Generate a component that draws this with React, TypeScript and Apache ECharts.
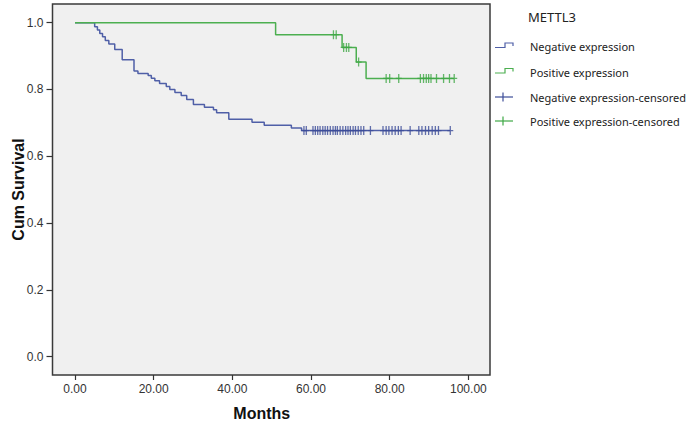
import React, { useEffect, useRef } from "react";
import * as echarts from "echarts";

const legendTitle = "METTL3";
const seriesNames = [
  "Negative expression",
  "Positive expression",
  "Negative expression-censored",
  "Positive expression-censored",
];

// Kaplan-Meier steps: time of drop and survival after the drop
const negTimes = [0, 5.0, 5.7, 6.3, 7.0, 7.7, 8.6, 10.1, 12.0, 15.0, 16.0, 18.6, 19.4, 20.3, 21.5, 23.2, 24.1, 25.4, 27.0, 28.4, 30.1, 32.9, 35.2, 36.0, 39.1, 45.0, 48.1, 55.0, 57.6, 95.4];
const negSurv = [1.0, 0.988, 0.978, 0.968, 0.958, 0.947, 0.936, 0.92, 0.889, 0.855, 0.848, 0.842, 0.834, 0.826, 0.818, 0.809, 0.8, 0.791, 0.782, 0.77, 0.755, 0.747, 0.739, 0.73, 0.711, 0.702, 0.693, 0.685, 0.677, 0.677];
const posTimes = [0, 51.0, 67.9, 71.5, 74.0, 96.4];
const posSurv = [1.0, 0.964, 0.926, 0.882, 0.833, 0.833];

const negCensored = [58.2, 58.8, 60.5, 61.1, 61.7, 62.3, 63.0, 63.6, 64.2, 64.9, 65.6, 66.2, 66.7, 67.4, 68.1, 68.8, 69.4, 70.0, 70.7, 71.3, 72.0, 72.7, 73.4, 75.1, 78.3, 79.1, 79.8, 80.6, 81.4, 82.2, 82.9, 85.2, 87.4, 88.2, 89.1, 89.9, 90.8, 91.6, 92.4, 95.4];
const posCensored = [65.7, 66.4, 68.3, 69.0, 69.6, 72.1, 79.1, 80.0, 82.3, 87.8, 88.6, 89.3, 89.9, 90.5, 91.9, 93.7, 95.2, 96.4];

const xTicks = [0, 20, 40, 60, 80, 100];
const yTicks = [0, 0.2, 0.4, 0.6, 0.8, 1.0];

const xTitle = "Months";
const yTitle = "Cum Survival";

const BLUE = "#4f5fa7";
const BLUE_MARK = "#3c4c98";
const GREEN = "#4caf50";
const GREEN_MARK = "#3fa845";

function survAt(times: number[], surv: number[], t: number) {
  let v = surv[0];
  for (let i = 0; i < times.length; i++) if (times[i] <= t) v = surv[i];
  return v;
}

const PLUS = "path://M23.5,0H36.5V38.5H60V51.5H36.5V90H23.5V51.5H0V38.5H23.5Z";

export default function App() {
  const ref = useRef<HTMLDivElement>(null);
  useEffect(() => {
    if (!ref.current) return;
    const chart = echarts.init(ref.current, null, { renderer: "svg" });
    const font = "'Liberation Sans', Arial, sans-serif";
    const legFont = "'Noto Sans', sans-serif";
    const rows = [46.5, 72, 97, 121];
    const colors = [BLUE, GREEN, BLUE_MARK, GREEN_MARK];
    const legendEls: any[] = [
      {
        type: "text",
        left: 528,
        top: 10,
        style: { text: legendTitle, font: `13px ${legFont}`, fill: "#222" },
      },
    ];
    rows.forEach((y, i) => {
      if (i < 2) {
        legendEls.push({
          type: "polyline",
          shape: { points: [[495, y + 1], [505, y + 1], [505, y - 3.5], [513, y - 3.5], [513, y - 0.5]] },
          style: { stroke: colors[i], lineWidth: 1.2, fill: "none" },
        });
      } else {
        legendEls.push({ type: "line", shape: { x1: 495, y1: y, x2: 513, y2: y }, style: { stroke: colors[i], lineWidth: 1.2 } });
        legendEls.push({ type: "line", shape: { x1: 503, y1: y - 4.5, x2: 503, y2: y + 4.5 }, style: { stroke: colors[i], lineWidth: 1.2 } });
      }
      legendEls.push({
        type: "text",
        x: 530,
        y: y,
        style: { text: seriesNames[i], font: `11px ${legFont}`, fill: "#222", verticalAlign: "middle" },
      });
    });

    chart.setOption({
      animation: false,
      backgroundColor: "#ffffff",
      grid: {
        left: 52.5,
        top: 4,
        width: 437.5,
        height: 371,
        containLabel: false,
        outerBoundsMode: "none",
        show: true,
        backgroundColor: "#f0f0f0",
        borderColor: "#3a3a3a",
        borderWidth: 1.5,
      },
      xAxis: {
        type: "value",
        min: -5.72,
        max: 105.5,
        name: xTitle,
        nameLocation: "middle",
        nameGap: 30,
        nameMoveOverlap: false,
        nameTextStyle: { fontWeight: "bold", fontSize: 16, fontFamily: font, color: "#111", padding: [0, 19, 0, 0] },
        axisLine: { show: false, onZero: false },
        splitLine: { show: false },
        axisTick: { show: true, inside: false, length: 5, customValues: xTicks, lineStyle: { color: "#333", width: 1.2 } },
        axisLabel: {
          customValues: xTicks,
          formatter: (v: number) => v.toFixed(2),
          color: "#333",
          fontSize: 12,
          fontFamily: font,
          margin: 8,
        },
      },
      yAxis: {
        type: "value",
        min: -0.055,
        max: 1.056,
        name: yTitle,
        nameLocation: "middle",
        nameGap: 26,
        nameMoveOverlap: false,
        nameRotate: 90,
        nameTextStyle: { fontWeight: "bold", fontSize: 16, fontFamily: font, color: "#111" },
        axisLine: { show: false, onZero: false },
        splitLine: { show: false },
        axisTick: { show: true, inside: false, length: 6, customValues: yTicks, lineStyle: { color: "#333", width: 1.2 } },
        axisLabel: {
          customValues: yTicks,
          formatter: (v: number) => v.toFixed(1),
          color: "#333",
          fontSize: 12,
          fontFamily: font,
          margin: 9,
        },
      },
      graphic: legendEls,
      series: [
        {
          name: seriesNames[0],
          type: "line",
          step: "end",
          showSymbol: false,
          data: negTimes.map((t, i) => [t, negSurv[i]]),
          lineStyle: { color: BLUE, width: 1.5 },
          itemStyle: { color: BLUE },
          z: 2,
        },
        {
          name: seriesNames[1],
          type: "line",
          step: "end",
          showSymbol: false,
          data: posTimes.map((t, i) => [t, posSurv[i]]),
          lineStyle: { color: GREEN, width: 1.5 },
          itemStyle: { color: GREEN },
          z: 2,
        },
        {
          name: seriesNames[2],
          type: "scatter",
          symbol: PLUS,
          symbolSize: [6, 9],
          data: negCensored.map((t) => [t, survAt(negTimes, negSurv, t)]),
          itemStyle: { color: BLUE_MARK },
          z: 3,
        },
        {
          name: seriesNames[3],
          type: "scatter",
          symbol: PLUS,
          symbolSize: [6, 9],
          data: posCensored.map((t) => [t, survAt(posTimes, posSurv, t)]),
          itemStyle: { color: GREEN_MARK },
          z: 3,
        },
      ],
    });
    return () => chart.dispose();
  }, []);
  return (
    <div
      ref={ref}
      style={{ position: "fixed", left: 0, top: 0, width: 700, height: 423, background: "#fff" }}
    />
  );
}
